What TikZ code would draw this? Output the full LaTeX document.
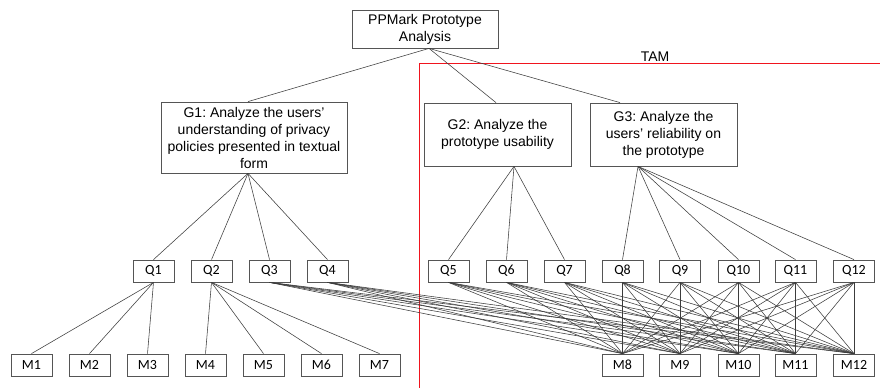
\documentclass[tikz,border=0pt]{standalone}
\usepackage{fontspec}
\setmainfont{Liberation Sans}
\newfontfamily\calib{Carlito}
\definecolor{boxgray}{HTML}{555555}
\definecolor{linegray}{HTML}{3C3C3C}
\definecolor{tamred}{HTML}{F0141E}
\frenchspacing
\begin{document}
\frenchspacing
\begin{tikzpicture}[x=1pt,y=-1pt,
  box/.style={draw=boxgray,line width=0.8pt,inner sep=0pt,align=center,font=\fontsize{14}{17}\selectfont},
  qm/.style={draw=boxgray,line width=0.8pt,inner sep=0pt,minimum width=41pt,minimum height=22pt,font=\calib\fontsize{14}{17}\selectfont},
  link/.style={draw=linegray,line width=0.55pt},
  frame/.style={draw=tamred,line width=1.3pt}]
\useasboundingbox (0,0) rectangle (880,388);
\fill[white] (0,0) rectangle (880,388);
\path[frame] (880,63.3) -- (419.5,63.3) -- (419.5,388);
\node[font=\fontsize{14}{17}\selectfont] (tam) at (655,57) {TAM};

\node[box,minimum width=146pt,minimum height=38pt] (root) at (425,29) {PPMark Prototype\\Analysis};
\node[box,minimum width=186pt,minimum height=71pt] (g1) at (254,137.5) {G1: Analyze the users'\\understanding of privacy\\policies presented in textual\\form};
\node[box,minimum width=147pt,minimum height=63pt] (g2) at (497.5,134.5) {G2: Analyze the\\prototype usability};
\node[box,minimum width=147pt,minimum height=63pt] (g3) at (663.5,134.5) {G3: Analyze the\\users' reliability on\\the prototype};

\foreach \i/\x in {1/153.5,2/211.5,3/269.5,4/327.5,5/448.5,6/506.5,7/564.5,8/622.5,9/680,10/738.5,11/795.5,12/854}
  \node[qm] (q\i) at (\x,271) {Q\i};
\foreach \i/\x in {1/31.5,2/89.5,3/147.5,4/205.5,5/263.5,6/321.5,7/379.5,8/622.5,9/680,10/738.5,11/795.5,12/854}
  \node[qm] (m\i) at (\x,365) {M\i};

\draw[link] ([xshift=4pt]root.south) -- ([xshift=-6pt]g1.north);
\draw[link] ([xshift=4pt]root.south) -- ([xshift=-1.5pt]g2.north);
\draw[link] ([xshift=4pt]root.south) -- ([xshift=-43.5pt]g3.north);

\foreach \j in {1,...,4} \draw[link] ([xshift=-6pt]g1.south) -- (q\j.north);
\foreach \j in {5,6,7} \draw[link] ([xshift=16.5pt]g2.south) -- (q\j.north);
\foreach \j in {8,...,12} \draw[link] ([xshift=-25.5pt]g3.south) -- (q\j.north);

\foreach \j in {1,2,3} \draw[link] (q1.south) -- (m\j.north);
\foreach \j in {4,...,7} \draw[link] (q2.south) -- (m\j.north);
\foreach \i in {3,...,12} \foreach \j in {8,...,12} \draw[link] (q\i.south) -- (m\j.north);
\end{tikzpicture}
\end{document}
